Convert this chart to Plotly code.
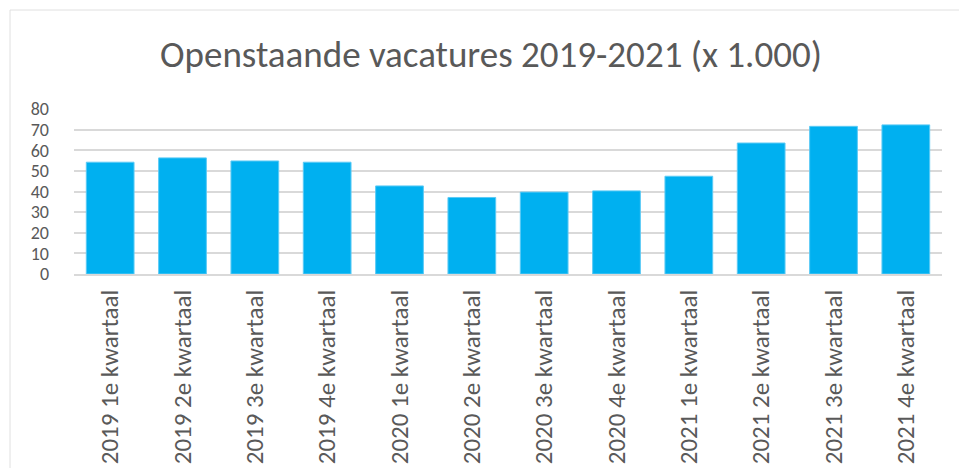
import plotly.graph_objects as go

categories = ["2019 1e kwartaal", "2019 2e kwartaal", "2019 3e kwartaal", "2019 4e kwartaal",
              "2020 1e kwartaal", "2020 2e kwartaal", "2020 3e kwartaal", "2020 4e kwartaal",
              "2021 1e kwartaal", "2021 2e kwartaal", "2021 3e kwartaal", "2021 4e kwartaal"]
values = [54.2, 56.3, 54.8, 54.2, 42.7, 37.1, 39.7, 40.3, 47.4, 63.5, 71.6, 72.3]
y_ticks = [0, 10, 20, 30, 40, 50, 60, 70, 80]

W, H = 959, 468
ML, MR, MT, MB = 74, 17, 109, 194
FONT = "Carlito, Lato, sans-serif"
GREY = "#595959"

fig = go.Figure(go.Bar(
    x=categories, y=values,
    marker=dict(color="#00b0f0", line=dict(color="#5ccaf5", width=1)),
    width=0.66,
))

pw = W - ML - MR
ph = H - MT - MB
def px_x(p):
    return (p - ML) / pw
def px_y(p):
    return (H - MB - p) / ph

fig.add_shape(type="rect", xref="paper", yref="paper",
              x0=px_x(10), x1=px_x(980), y0=px_y(10), y1=px_y(490),
              line=dict(color="#e0e0e0", width=1), fillcolor="rgba(0,0,0,0)", layer="below")

fig.update_layout(
    width=W, height=H,
    margin=dict(l=ML, r=MR, t=MT, b=MB, autoexpand=False),
    paper_bgcolor="white", plot_bgcolor="white",
    font=dict(family=FONT, color=GREY, size=18),
    title=dict(text="Openstaande vacatures 2019-2021 (x 1.000)",
               font=dict(size=37, color=GREY, family=FONT),
               x=491 / W, xanchor="center", y=1 - 54 / H, yanchor="middle", xref="container", yref="container"),
    showlegend=False,
    bargap=0.34,
)
fig.update_xaxes(tickangle=-90, showline=True, linecolor="#d9d9d9", linewidth=1.5,
                 showgrid=False, ticks="", tickfont=dict(size=25, color=GREY, family=FONT),
                 ticklabelstandoff=4)
fig.update_yaxes(range=[0, 80], tickvals=y_ticks, showgrid=True, gridcolor="#d9d9d9", gridwidth=1.5,
                 zeroline=False, showline=False, ticks="", tickfont=dict(size=18, color=GREY, family=FONT),
                 ticklabelstandoff=24)

fig.write_html("out.html", post_script="document.body.style.margin='0';",
               config={"displayModeBar": False})
